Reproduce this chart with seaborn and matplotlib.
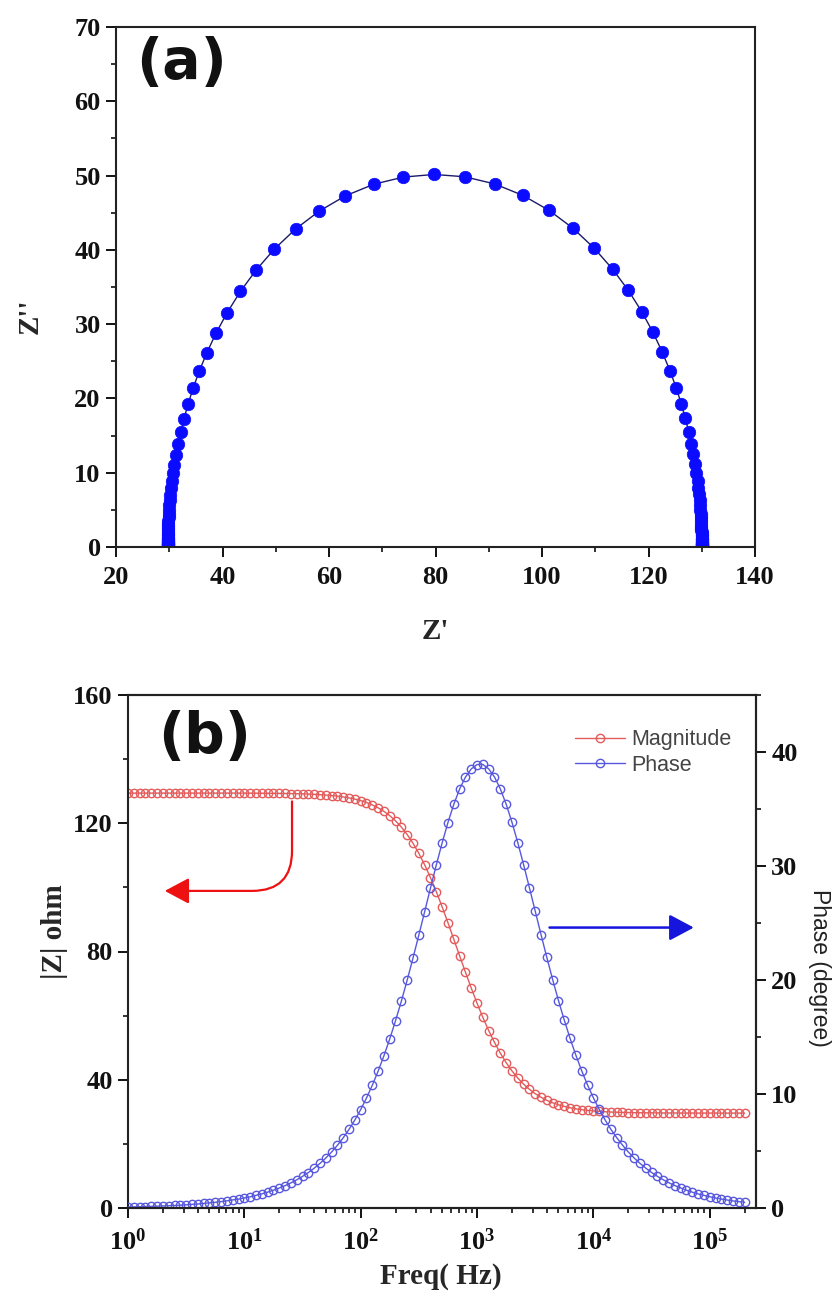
import matplotlib
matplotlib.use("Agg")
import numpy as np
import matplotlib.pyplot as plt
import seaborn as sns
from matplotlib.ticker import MultipleLocator, FixedLocator, LogLocator, NullFormatter, FuncFormatter
from matplotlib.lines import Line2D

# ---------------- data ----------------
freq = [1.0, 1.122, 1.259, 1.413, 1.585, 1.778, 1.995, 2.239, 2.512, 2.818,
        3.162, 3.548, 3.981, 4.467, 5.012, 5.623, 6.310, 7.079, 7.943, 8.913,
        10.0, 11.22, 12.59, 14.13, 15.85, 17.78, 19.95, 22.39, 25.12, 28.18,
        31.62, 35.48, 39.81, 44.67, 50.12, 56.23, 63.10, 70.79, 79.43, 89.13,
        100.0, 112.2, 125.9, 141.3, 158.5, 177.8, 199.5, 223.9, 251.2, 281.8,
        316.2, 354.8, 398.1, 446.7, 501.2, 562.3, 631.0, 707.9, 794.3, 891.3,
        1000, 1122, 1259, 1413, 1585, 1778, 1995, 2239, 2512, 2818,
        3162, 3548, 3981, 4467, 5012, 5623, 6310, 7079, 7943, 8913,
        10000, 11220, 12590, 14130, 15850, 17780, 19950, 22390, 25120, 28180,
        31620, 35480, 39810, 44670, 50120, 56230, 63100, 70790, 79430, 89130,
        100000, 112200, 125900, 141300, 158500, 177800, 199500]

magnitude = [129.4, 129.4, 129.4, 129.4, 129.4, 129.4, 129.4, 129.4, 129.4, 129.4,
             129.4, 129.4, 129.4, 129.4, 129.4, 129.4, 129.4, 129.4, 129.4, 129.4,
             129.39, 129.38, 129.38, 129.36, 129.35, 129.33, 129.31, 129.29, 129.25, 129.22,
             129.17, 129.10, 129.02, 128.92, 128.80, 128.64, 128.46, 128.21, 127.91, 127.53,
             127.05, 126.46, 125.72, 124.81, 123.71, 122.37, 120.73, 118.79, 116.46, 113.74,
             110.61, 107.03, 103.03, 98.65, 93.94, 88.98, 83.85, 78.69, 73.58, 68.62,
             63.89, 59.45, 55.36, 51.64, 48.31, 45.36, 42.78, 40.54, 38.63, 37.02,
             35.66, 34.53, 33.58, 32.82, 32.19, 31.69, 31.26, 30.93, 30.66, 30.45,
             30.28, 30.14, 30.03, 29.94, 29.87, 29.81, 29.77, 29.74, 29.71, 29.69,
             29.67, 29.66, 29.64, 29.64, 29.63, 29.62, 29.62, 29.61, 29.61, 29.61,
             29.61, 29.61, 29.6, 29.6, 29.6, 29.6, 29.6]

phase = [0.09, 0.10, 0.11, 0.13, 0.14, 0.16, 0.18, 0.20, 0.22, 0.25,
         0.28, 0.32, 0.35, 0.40, 0.45, 0.50, 0.56, 0.63, 0.71, 0.78,
         0.88, 0.98, 1.11, 1.24, 1.39, 1.56, 1.75, 1.96, 2.20, 2.47,
         2.77, 3.11, 3.49, 3.91, 4.38, 4.91, 5.50, 6.16, 6.90, 7.72,
         8.63, 9.65, 10.77, 12.01, 13.36, 14.83, 16.44, 18.16, 20.00, 21.94,
         23.95, 26.00, 28.07, 30.09, 32.02, 33.81, 35.40, 36.74, 37.79, 38.51,
         38.90, 38.91, 38.52, 37.81, 36.77, 35.44, 33.85, 32.06, 30.13, 28.11,
         26.05, 23.99, 21.98, 20.04, 18.20, 16.48, 14.87, 13.39, 12.03, 10.79,
         9.67, 8.66, 7.74, 6.91, 6.18, 5.52, 4.92, 4.39, 3.92, 3.50,
         3.12, 2.78, 2.48, 2.21, 1.97, 1.76, 1.56, 1.39, 1.24, 1.11,
         0.99, 0.88, 0.78, 0.70, 0.62, 0.56, 0.50]

z_real = [130.0, 130.0, 130.0, 130.0, 130.0, 130.0, 130.0, 130.0, 130.0, 130.0,
          130.0, 130.0, 130.0, 130.0, 130.0, 130.0, 130.0, 130.0, 130.0, 130.0,
          129.96, 129.95, 129.94, 129.92, 129.90, 129.87, 129.84, 129.80, 129.75, 129.69,
          129.61, 129.50, 129.37, 129.21, 129.00, 128.75, 128.43, 128.04, 127.53, 126.91,
          126.15, 125.20, 124.02, 122.58, 120.84, 118.75, 116.23, 113.25, 109.78, 105.82,
          101.34, 96.41, 91.09, 85.48, 79.73, 73.99, 68.39, 63.08, 58.17, 53.71,
          49.76, 46.32, 43.37, 40.87, 38.78, 37.05, 35.63, 34.46, 33.52, 32.76,
          32.15, 31.66, 31.26, 30.95, 30.69, 30.49, 30.32, 30.19, 30.10, 30.02,
          29.95, 29.90, 29.86, 29.83, 29.80, 29.78, 29.76, 29.75, 29.74, 29.73,
          29.73, 29.72, 29.72, 29.71, 29.71, 29.71, 29.71, 29.71, 29.70, 29.70,
          29.70, 29.70, 29.70, 29.70, 29.70, 29.70, 29.70]

z_imag = [0.20, 0.23, 0.26, 0.29, 0.32, 0.36, 0.41, 0.44, 0.50, 0.56,
          0.63, 0.71, 0.80, 0.90, 1.01, 1.13, 1.26, 1.42, 1.59, 1.79,
          2.01, 2.25, 2.52, 2.84, 3.17, 3.57, 3.99, 4.49, 5.03, 5.63,
          6.31, 7.09, 7.94, 8.89, 9.95, 11.14, 12.46, 13.92, 15.54, 17.33,
          19.29, 21.43, 23.75, 26.25, 28.90, 31.66, 34.53, 37.41, 40.24, 42.91,
          45.31, 47.33, 48.88, 49.84, 50.15, 49.80, 48.83, 47.27, 45.22, 42.80,
          40.12, 37.29, 34.41, 31.54, 28.78, 26.14, 23.66, 21.34, 19.20, 17.25,
          15.48, 13.86, 12.40, 11.09, 9.91, 8.85, 7.90, 7.05, 6.28, 5.61,
          5.00, 4.46, 3.98, 3.55, 3.16, 2.82, 2.51, 2.24, 2.00, 1.78,
          1.58, 1.41, 1.26, 1.13, 1.00, 0.89, 0.79, 0.71, 0.63, 0.56,
          0.50, 0.44, 0.40, 0.36, 0.32, 0.29, 0.25]

x_ticks_top = [20, 40, 60, 80, 100, 120, 140]
y_ticks_top = [0, 10, 20, 30, 40, 50, 60, 70]
y_ticks_mag = [0, 40, 80, 120, 160]
y_ticks_phase = [0, 10, 20, 30, 40]
x_ticks_freq = [1, 10, 100, 1000, 10000, 100000]

# ---------------- style ----------------
sns.set_theme(style="ticks")
plt.rcParams['font.family'] = ['Liberation Serif', 'DejaVu Serif']
plt.rcParams['font.weight'] = 'bold'
plt.rcParams['mathtext.fontset'] = 'custom'
plt.rcParams['mathtext.bf'] = 'Liberation Serif:bold'
plt.rcParams['mathtext.rm'] = 'Liberation Serif:bold'
plt.rcParams['axes.linewidth'] = 1.5

RED = '#e35b5b'
BLUE = '#5858de'
TICK_FS = 19
LABEL_FS = 21
MS = 6.0

W, H = 833, 1296
fig = plt.figure(figsize=(W / 100, H / 100), dpi=100)


def fx(px):
    return px / W


def fy(py):
    return 1 - py / H


def style_axis(ax):
    ax.set_facecolor('white')
    for s in ax.spines.values():
        s.set_color('#222222')
        s.set_linewidth(1.5)
    ax.tick_params(which='major', direction='out', length=7, width=1.4,
                   labelsize=TICK_FS, pad=4, colors='#111111')
    ax.tick_params(which='minor', direction='out', length=3.5, width=1.2, colors='#111111')
    for lab in ax.get_xticklabels() + ax.get_yticklabels():
        lab.set_fontweight('bold')


# ---------------- panel (a): Nyquist ----------------
ax1 = fig.add_axes([fx(116), fy(547), fx(755) - fx(116), fy(27) - fy(547)])
sns.lineplot(x=z_real, y=z_imag, ax=ax1, sort=False, estimator=None,
             color='#1a1a6a', linewidth=1.0, marker='o', markersize=9,
             markerfacecolor='#0b0bff', markeredgecolor='#0b0bff', markeredgewidth=0.5)
ax1.set_xlim(20, 140)
ax1.set_ylim(0, 70)
ax1.xaxis.set_major_locator(FixedLocator(x_ticks_top))
ax1.yaxis.set_major_locator(FixedLocator(y_ticks_top))
ax1.xaxis.set_minor_locator(MultipleLocator(10))
ax1.yaxis.set_minor_locator(MultipleLocator(5))
ax1.set_xlabel('')
ax1.set_ylabel('')
style_axis(ax1)
ax1.tick_params(axis='x', pad=7)
fig.text(fx(136), fy(36), '(a)', ha='left', va='top',
         fontsize=41, fontweight='bold', family='DejaVu Sans', color='#111111')

fig.text(fx(435), fy(632), "Z'", ha='center', va='center', fontsize=LABEL_FS, fontweight='bold')
fig.text(fx(30), fy(316), "Z''", ha='center', va='center', rotation=90,
         fontsize=LABEL_FS, fontweight='bold')

# ---------------- panel (b): Bode ----------------
ax3 = fig.add_axes([fx(128), fy(1208), fx(756) - fx(128), fy(695) - fy(1208)])
ax4 = ax3.twinx()
ax3.set_xscale('log')

sns.lineplot(x=freq, y=magnitude, ax=ax3, estimator=None, sort=False,
             color=RED, linewidth=1.0, marker='o', markersize=MS,
             markerfacecolor='none', markeredgecolor=RED, markeredgewidth=1.0)
sns.lineplot(x=freq, y=phase, ax=ax4, estimator=None, sort=False,
             color=BLUE, linewidth=1.0, marker='o', markersize=MS,
             markerfacecolor='none', markeredgecolor=BLUE, markeredgewidth=1.0)

ax3.set_xscale('log')
ax3.set_xlim(1, 2.5e5)
ax3.set_ylim(0, 160)
ax4.set_ylim(0, 45)
ax3.xaxis.set_major_locator(FixedLocator(x_ticks_freq))
ax3.xaxis.set_major_formatter(FuncFormatter(lambda v, p: r'$\mathbf{10^{%d}}$' % round(np.log10(v))))
ax3.xaxis.set_minor_locator(LogLocator(base=10, subs=np.arange(2, 10)))
ax3.xaxis.set_minor_formatter(NullFormatter())
ax3.yaxis.set_major_locator(FixedLocator(y_ticks_mag))
ax3.yaxis.set_minor_locator(MultipleLocator(20))
ax4.yaxis.set_major_locator(FixedLocator(y_ticks_phase))
ax4.yaxis.set_minor_locator(MultipleLocator(5))
for a in (ax3, ax4):
    a.set_xlabel('')
    a.set_ylabel('')
    style_axis(a)
ax3.tick_params(axis='x', pad=8)
ax4.spines['left'].set_visible(False)
ax4.patch.set_visible(False)
for lg in (ax3.get_legend(), ax4.get_legend()):
    if lg is not None:
        lg.remove()

fig.text(fx(158), fy(710), '(b)', ha='left', va='top',
         fontsize=41, fontweight='bold', family='DejaVu Sans', color='#111111')

# legend
handles = [Line2D([], [], color=RED, lw=1.0, marker='o', markersize=MS,
                  markerfacecolor='none', markeredgecolor=RED),
           Line2D([], [], color=BLUE, lw=1.0, marker='o', markersize=MS,
                  markerfacecolor='none', markeredgecolor=BLUE)]
leg = ax4.legend(handles, ['Magnitude', 'Phase'], loc='upper left',
                 bbox_to_anchor=(fx(556), fy(710)), bbox_transform=fig.transFigure,
                 frameon=False, handlelength=2.3, handletextpad=0.3, labelspacing=0.2,
                 prop={'family': 'Liberation Sans', 'size': 15.5, 'weight': 'normal'})
for t in leg.get_texts():
    t.set_color('#444444')

# arrows
ax3.annotate('', xy=(2.07, 98.9), xytext=(25.7, 126.8),
             arrowprops=dict(arrowstyle='-|>,head_length=0.75,head_width=0.4',
                             mutation_scale=20, color='#ee1111', lw=1.6,
                             connectionstyle='angle,angleA=-90,angleB=180,rad=40',
                             shrinkA=0, shrinkB=0))
ax4.annotate('', xy=(7.3e4, 24.6), xytext=(4200, 24.6),
             arrowprops=dict(arrowstyle='-|>,head_length=0.75,head_width=0.4',
                             mutation_scale=20, color='#1515dd', lw=1.8,
                             shrinkA=0, shrinkB=0))

fig.text(fx(54), fy(932), '|Z| ohm', ha='center', va='center', rotation=90,
         fontsize=LABEL_FS, fontweight='bold')
fig.text(fx(441), fy(1277), 'Freq( Hz)', ha='center', va='center',
         fontsize=LABEL_FS, fontweight='bold')
fig.text(fx(820), fy(968), 'Phase (degree)', ha='center', va='center', rotation=270,
         fontsize=16.5, fontweight='normal', family='Liberation Sans', color='#222222')

fig.savefig('out.png', dpi=100, facecolor='white')
